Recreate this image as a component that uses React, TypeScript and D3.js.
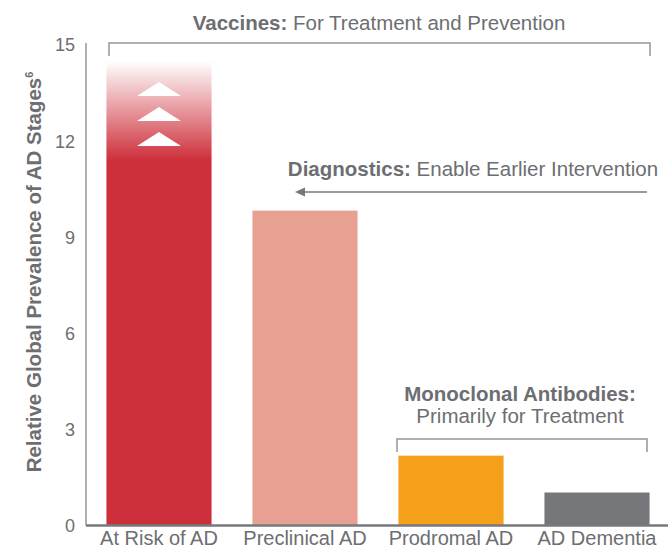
import React from "react";
import * as d3 from "d3";

const categories = ["At Risk of AD", "Preclinical AD", "Prodromal AD", "AD Dementia"];
const values = [14.5, 9.83, 2.18, 1.03];
const colors = ["#CD2F3A", "#E8A092", "#F4A01A", "#76777B"];
const yTicks = [0, 3, 6, 9, 12, 15];
const gradientSolidUntil = 11.4;

const W = 668;
const H = 550;
const FONT = "'Liberation Sans', Arial, Helvetica, sans-serif";
const TEXT = "#6d6e71";

export default function App() {
  const x = d3.scaleBand<string>().domain(categories).range([86, 670]).paddingInner(0.28).paddingOuter(0.14);
  const y = d3.scaleLinear().domain([0, 15]).range([525.5, 45]);
  const bw = x.bandwidth();
  const fadeStop = (values[0] - gradientSolidUntil) / values[0];

  const b0 = x(categories[0])!;
  const cx0 = b0 + bw / 2;
  const chevrons = [89, 114, 139];

  return (
    <svg width={W} height={H} style={{ position: "absolute", left: 0, top: 0 }} fontFamily={FONT}>
      <defs>
        <linearGradient id="fade" x1="0" y1="0" x2="0" y2="1">
          <stop offset="0" stopColor={colors[0]} stopOpacity={0} />
          <stop offset={fadeStop} stopColor={colors[0]} stopOpacity={1} />
          <stop offset="1" stopColor={colors[0]} stopOpacity={1} />
        </linearGradient>
      </defs>

      {/* y axis */}
      <line x1={86} x2={86} y1={y(15) - 2} y2={y(0)} stroke="#939598" strokeWidth={1.5} />
      {yTicks.map((t) => (
        <text key={t} x={75} y={y(t)} dy="0.36em" textAnchor="end" fontSize={18} fill={TEXT}>
          {t}
        </text>
      ))}
      <text
        transform={`translate(41, ${272}) rotate(-90)`}
        textAnchor="middle"
        fontSize={20.5}
        fontWeight="bold"
        fill={TEXT}
      >
        Relative Global Prevalence of AD Stages
        <tspan fontSize={11} dy={-8}>6</tspan>
      </text>

      {/* bars */}
      {categories.map((c, i) => (
        <rect
          key={c}
          x={x(c)}
          y={y(values[i])}
          width={bw}
          height={y(0) - y(values[i])}
          fill={i === 0 ? "url(#fade)" : colors[i]}
        />
      ))}

      {/* chevrons */}
      {chevrons.map((cy, i) => (
        <path key={i} d={`M${cx0 - 22},${cy + 7} L${cx0},${cy - 7} L${cx0 + 22},${cy + 7} Z`} fill="#fff" />
      ))}

      {/* baseline */}
      <line x1={86} x2={668} y1={y(0)} y2={y(0)} stroke="#77787b" strokeWidth={2.5} />

      {/* x labels */}
      {categories.map((c) => (
        <text key={c} x={x(c)! + bw / 2} y={545} textAnchor="middle" fontSize={20} fill={TEXT}>
          {c}
        </text>
      ))}

      {/* Vaccines bracket */}
      <path d="M109,56 V43 H650 V56" fill="none" stroke="#939598" strokeWidth={1.5} />
      <text x={379} y={30} textAnchor="middle" fontSize={20.5} fill={TEXT}>
        <tspan fontWeight="bold">Vaccines:</tspan> For Treatment and Prevention
      </text>

      {/* Diagnostics arrow */}
      <text x={473} y={176} textAnchor="middle" fontSize={20.5} fill={TEXT}>
        <tspan fontWeight="bold">Diagnostics:</tspan> Enable Earlier Intervention
      </text>
      <line x1={300} x2={647} y1={192} y2={192} stroke="#77787b" strokeWidth={1.5} />
      <path d="M295,192 L305,187.5 L305,196.5 Z" fill="#77787b" />

      {/* Monoclonal bracket */}
      <text x={520} y={401} textAnchor="middle" fontSize={20.5} fontWeight="bold" fill={TEXT}>
        Monoclonal Antibodies:
      </text>
      <text x={520} y={423} textAnchor="middle" fontSize={20.5} fill={TEXT}>
        Primarily for Treatment
      </text>
      <path d="M397,452 V439 H647 V452" fill="none" stroke="#939598" strokeWidth={1.5} />
    </svg>
  );
}
